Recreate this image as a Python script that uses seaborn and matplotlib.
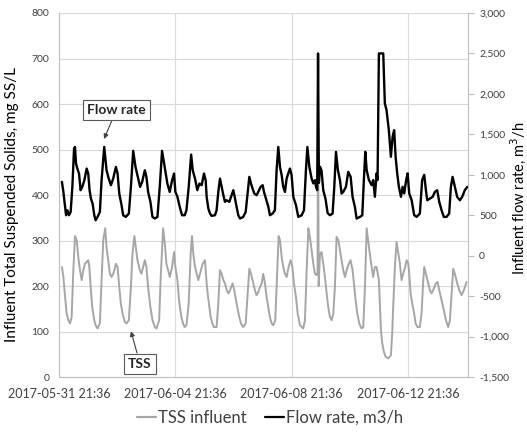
import numpy as np
import pandas as pd
import matplotlib
matplotlib.use('Agg')
import matplotlib.pyplot as plt
import matplotlib.dates as mdates
from matplotlib.ticker import MultipleLocator, FuncFormatter
from matplotlib.lines import Line2D
import seaborn as sns

# Data: hours after 2017-06-01 00:00 and values
start = pd.Timestamp('2017-06-01 00:00')

tss_hours = [
    0, 1.2, 2.6, 3.9, 5.3, 6.7, 8.0, 9.4, 10.8, 12.2, 13.5, 14.9, 16.3, 17.6, 19.0, 20.4, 21.7, 22.6, 23.9,
    25.0, 26.7, 27.8, 29.4, 31.3, 32.7, 34.1, 35.7, 36.8, 38.2, 39.6, 41.0, 42.9, 44.5, 45.9, 47.3,
    48.6, 50.0, 51.9, 53.3, 55.2, 56.9, 58.2, 59.8, 60.9, 62.3, 64.3, 65.6, 67.0, 68.4, 69.7, 71.1,
    73.0, 74.7, 76.6, 78.0, 80.2, 81.5, 83.5, 84.9, 86.2, 87.6, 89.0, 90.9, 92.5, 93.6, 95.3, 96.6,
    98.5, 99.9, 101.3, 102.7, 104.6, 106.2, 107.3, 108.4, 109.8, 111.2, 112.5, 113.9, 116.1, 118.0,
    119.4, 120.2, 121.6, 122.7, 124.1, 125.4, 127.6, 129.0, 130.4, 131.8, 133.2, 134.5, 135.9, 137.3,
    138.7, 140.8, 142.2, 143.6, 144.7, 146.3, 147.7, 149.6, 151.6, 152.9, 154.6, 156.0, 157.3, 159.2,
    160.6, 162.0, 163.4, 164.8, 166.1, 167.5, 168.9, 170.2, 171.6, 173.0, 174.4, 176.0, 177.7, 178.8,
    179.9, 181.3, 182.6, 184.0, 185.4, 187.0, 188.7, 190.1, 191.4, 193.1, 194.5, 196.4, 199.1, 200.5,
    201.9, 203.3, 204.6, 206.0, 207.4, 208.7, 210.1, 210.9, 211.3, 211.8, 212.9, 214.2, 215.6, 217.0,
    218.4, 219.7, 221.1, 222.5, 223.9, 225.2, 226.6, 228.0, 229.4, 230.7, 232.1, 233.5, 234.9, 236.2,
    238.1, 239.8, 240.9, 242.3, 243.7, 245.3, 247.2, 248.6, 250.0, 251.4, 253.3, 255.5, 256.8, 258.2,
    259.6, 261.5, 262.4, 263.2, 264.3, 265.6, 267.0, 269.2, 271.4, 272.5, 273.3, 274.7, 276.1, 277.5,
    278.8, 280.2, 281.6, 283.0, 284.4, 285.7, 286.5, 287.7, 289.0, 290.6, 291.8, 293.4, 295.3, 296.7,
    298.1, 298.9, 300.9, 302.2, 303.6, 305.0, 306.9, 308.5, 309.9, 311.3, 313.2, 315.1, 316.8, 318.7,
    320.1, 321.5, 322.8, 324.2, 326.1, 327.8, 329.7, 331.6, 333.8,
]
tss_vals = [
    242, 220, 176, 140, 125, 118, 132, 235, 310, 301, 264, 235, 213, 235, 249, 253, 257, 242, 191,
    154, 125, 114, 107, 118, 213, 301, 327, 286, 257, 227, 220, 231, 249, 242, 198,
    162, 140, 121, 118, 125, 198, 271, 310, 286, 257, 235, 227, 242, 257, 242, 198,
    154, 125, 110, 107, 125, 220, 327, 293, 249, 235, 220, 242, 275, 242, 213, 169,
    132, 118, 110, 114, 162, 271, 310, 271, 242, 227, 213, 227, 249, 257,
    206, 184, 154, 132, 118, 110, 110, 162, 235, 227, 213, 206, 191, 184,
    191, 206, 191, 169, 154, 132, 118, 110, 118, 169, 238, 227, 213, 191,
    180, 187, 198, 206, 227, 206, 176, 154, 132, 118, 114, 125, 235, 310,
    301, 264, 242, 227, 220, 242, 257, 242, 206, 176, 140, 114, 107, 125,
    235, 327, 308, 279, 249, 227, 224, 230, 650, 200, 271, 275, 249, 220,
    184, 154, 132, 125, 140, 198, 308, 301, 279, 257, 235, 220, 235, 246,
    257, 235, 206, 169, 140, 118, 107, 110, 198, 327, 286, 242, 220, 242,
    242, 213, 155, 103, 74, 56, 45, 41, 48, 97, 155, 242, 297, 272,
    250, 213, 228, 240, 257, 250, 228, 184, 162, 140, 118, 110, 110, 140,
    213, 242, 220, 206, 191, 184, 195, 206, 209, 191, 169, 147, 125, 110,
    125, 184, 238, 227, 206, 191, 180, 191, 209,
]

flow_hours = [
    0, 1.2, 2.6, 3.4, 4.5, 5.8, 7.2, 8.6, 10.0, 10.8, 11.6, 12.7, 14.1, 15.4, 16.8, 18.5, 20.4, 21.7,
    22.8, 23.9, 25.3, 26.7, 27.8, 29.4, 31.3, 32.7, 34.9, 36.8, 38.2, 40.4, 42.3, 44.5, 45.9, 47.3,
    49.2, 50.5, 52.7, 55.2, 56.9, 58.8, 60.7, 62.9, 64.5, 66.2, 68.4, 69.7, 71.1, 73.0, 74.7, 76.6,
    78.8, 80.7, 82.6, 84.8, 87.0, 88.9, 90.9, 92.5, 93.6, 95.3, 97.2, 99.1, 101.3, 102.7, 104.6,
    106.6, 107.9, 109.8, 111.7, 113.4, 115.3, 117.2, 118.6, 119.4, 120.8, 122.2, 123.5, 126.3, 127.6,
    129.0, 130.4, 131.8, 133.2, 134.5, 135.9, 138.1, 140.0, 141.4, 142.8, 144.1, 145.5, 146.9, 149.6,
    151.6, 152.9, 154.6, 156.0, 157.3, 158.7, 160.6, 162.0, 163.9, 165.6, 166.7, 168.3, 170.3, 171.6,
    173.8, 175.7, 177.1, 178.5, 179.9, 181.3, 182.6, 184.0, 185.4, 186.7, 188.1, 189.5, 190.9, 193.1,
    195.0, 197.8, 199.7, 201.3, 202.5, 204.1, 206.0, 207.4, 208.8, 209.6, 210.6, 211.3, 212.0, 212.9,
    214.2, 215.6, 217.5, 219.2, 221.1, 223.3, 224.7, 226.1, 227.7, 229.4, 230.7, 232.1, 234.3, 236.2,
    238.2, 239.8, 241.7, 243.1, 245.9, 247.8, 249.1, 250.3, 251.4, 253.3, 255.5, 256.8, 258.2, 259.6,
    260.4, 261.5, 265.1, 266.4, 267.8, 269.7, 271.4, 272.8, 274.1, 275.3, 276.6, 278.0, 279.7, 281.1,
    282.4, 284.0, 285.2, 286.5, 288.5, 290.6, 292.6, 295.3, 297.2, 298.9, 300.3, 301.4, 303.6, 305.8,
    307.7, 309.6, 311.3, 313.2, 315.1, 317.3, 319.5, 320.9, 322.3, 324.2, 326.1, 328.3, 330.2, 332.4,
    334.4,
]
flow_vals = [
    913, 789, 604, 501, 562, 501, 542, 851, 1325, 1345, 1139, 1078, 1016, 810, 851, 933, 1078, 1016,
    810, 707, 645, 501, 439, 480, 542, 933, 1345, 1057, 975, 872, 954, 1098, 1016, 769,
    624, 501, 480, 521, 851, 1296, 1098, 954, 851, 913, 1057, 975, 789, 666, 480, 460,
    480, 851, 1296, 1098, 892, 789, 933, 1016, 789, 727, 604, 501, 501, 562, 851,
    1250, 1057, 954, 810, 892, 872, 1016, 933, 727, 583, 521, 493, 501, 562,
    789, 954, 851, 748, 666, 686, 666, 748, 810, 707, 604, 501, 460, 480,
    542, 727, 975, 892, 830, 769, 748, 789, 851, 872, 789, 707, 604, 501,
    521, 562, 1057, 1345, 1098, 995, 851, 789, 954, 1016, 1078, 995, 727, 624,
    480, 501, 562, 1057, 1345, 1100, 954, 894, 935, 851, 811, 2500, 900, 1100,
    1050, 811, 700, 527, 501, 521, 851, 1284, 1057, 933, 769, 789, 851, 1036,
    975, 727, 604, 460, 480, 501, 933, 1285, 1059, 935, 873, 935, 729, 1018,
    935, 2500, 2500, 1883, 1800, 1553, 1223, 1470, 1553, 1223, 1018, 852, 729, 852,
    771, 935, 1018, 771, 688, 502, 481, 521, 935, 1000, 810, 686, 707, 727,
    789, 810, 666, 562, 480, 480, 521, 851, 975, 851, 727, 686, 727, 810,
    851,
]

tss = pd.DataFrame({'time': start + pd.to_timedelta(tss_hours, unit='h'), 'tss': tss_vals})
flow = pd.DataFrame({'time': start + pd.to_timedelta(flow_hours, unit='h'), 'flow': flow_vals})

tick_dates = pd.date_range('2017-05-31 21:36', periods=4, freq='4D')
x_min = pd.Timestamp('2017-05-31 21:36')
x_max = pd.Timestamp('2017-06-14 23:00')

sns.set_style('white')
plt.rcParams['font.family'] = ['Lato', 'DejaVu Sans']

grey_txt = '#404040'
axis_col = '#bfbfbf'

fig = plt.figure(figsize=(5.27, 4.33), dpi=100)
ax = fig.add_axes([0.112, 0.129, 0.776, 0.841])
ax2 = ax.twinx()

sns.lineplot(data=tss, x='time', y='tss', ax=ax, color='#a6a6a6', lw=1.4, legend=False)
sns.lineplot(data=flow, x='time', y='flow', ax=ax2, color='black', lw=1.7, legend=False)

ax.set_xlim(x_min, x_max)
ax.set_ylim(0, 800)
ax2.set_ylim(-1500, 3000)

ax.set_xticks(mdates.date2num(tick_dates.to_pydatetime()))
ax.xaxis.set_major_formatter(mdates.DateFormatter('%Y-%m-%d %H:%M'))
ax.yaxis.set_major_locator(MultipleLocator(100))
ax2.yaxis.set_major_locator(MultipleLocator(500))
ax2.yaxis.set_major_formatter(FuncFormatter(lambda v, p: f'{int(v):,}'))

ax.grid(True, color='#d9d9d9', lw=0.8)
ax2.grid(False)

for s in ['top', 'right']:
    ax.spines[s].set_visible(False)
for s in ['left', 'bottom']:
    ax.spines[s].set_color(axis_col)
    ax.spines[s].set_linewidth(0.8)
for s in ['top', 'left', 'bottom']:
    ax2.spines[s].set_visible(False)
ax2.spines['right'].set_color(axis_col)
ax2.spines['right'].set_linewidth(0.8)

ax.tick_params(axis='y', length=0, pad=7, labelsize=7.5, labelcolor=grey_txt)
ax.tick_params(axis='x', length=0, pad=8, labelsize=9, labelcolor=grey_txt)
ax2.tick_params(axis='y', length=4, width=0.8, color=axis_col, pad=4, labelsize=7.5, labelcolor=grey_txt)

ax.set_xlabel('')
ax.set_ylabel('Influent Total Suspended Solids, mg SS/L', fontsize=11, color='black')
ax2.set_ylabel('Influent flow rate, m$^3$/h', fontsize=10.5, color='black')
ax.yaxis.set_label_coords(-0.098, 0.473)
ax2.yaxis.set_label_coords(1.098, 0.492)

box = dict(boxstyle='square,pad=0.3', fc='white', ec='#595959', lw=0.8)
arrow = dict(arrowstyle='-|>', color=grey_txt, lw=0.8, mutation_scale=7, shrinkA=0, shrinkB=0)
ax2.annotate('Flow rate', xy=(0.110, 0.654), xycoords='axes fraction',
             xytext=(0.140, 0.733), textcoords='axes fraction',
             ha='center', va='center', fontsize=10, fontweight='bold',
             bbox=box, arrowprops=arrow)
ax2.annotate('TSS', xy=(0.176, 0.126), xycoords='axes fraction',
             xytext=(0.198, 0.037), textcoords='axes fraction',
             ha='center', va='center', fontsize=10, fontweight='bold',
             bbox=box, arrowprops=arrow)

handles = [Line2D([], [], color='#a6a6a6', lw=1.6), Line2D([], [], color='black', lw=1.6)]
fig.legend(handles, ['TSS influent', 'Flow rate, m3/h'], loc='center',
           bbox_to_anchor=(0.513, 0.035), ncol=2, frameon=False, fontsize=12,
           handlelength=1.1, handletextpad=0.15, columnspacing=1.1, labelcolor=grey_txt)

fig.savefig('out.png', dpi=100)
